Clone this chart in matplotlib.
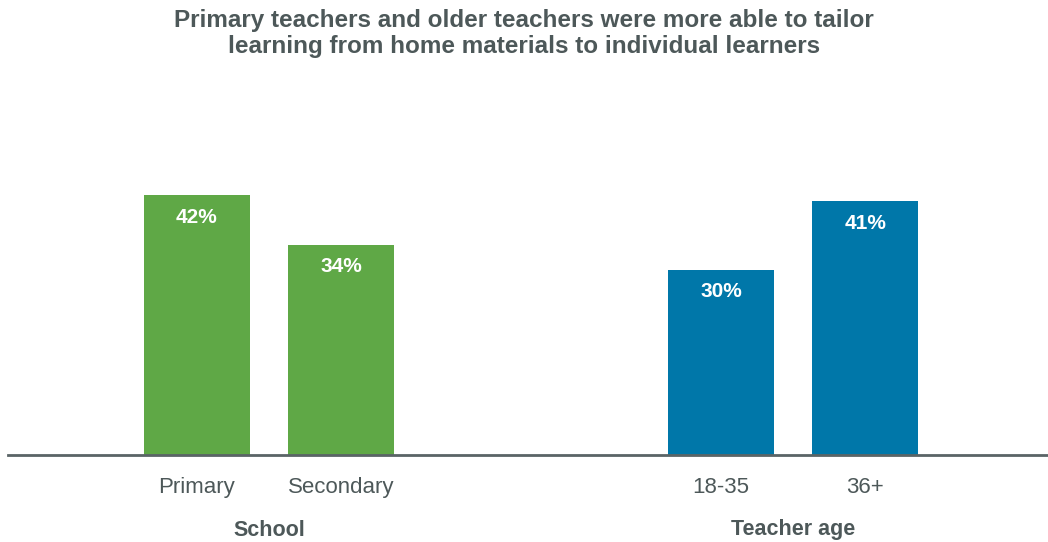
import matplotlib
matplotlib.use('Agg')
import matplotlib.pyplot as plt
import numpy as np

plt.rcParams['font.family'] = ['Liberation Sans', 'DejaVu Sans']

groups = ['School', 'Teacher age']
labels = ['Primary', 'Secondary', '18-35', '36+']
values = [42, 34, 30, 41]
group_of = [0, 0, 1, 1]

green = '#5fa846'
blue = '#0077a9'
text_grey = '#4d5859'
colors = [green if g == 0 else blue for g in group_of]

# bars sit one unit apart within a group, groups separated by a wider gap
group_gap = 1.64
x = np.arange(len(labels)) + np.array(group_of) * group_gap
width = 0.736

fig = plt.figure(figsize=(10.48, 5.42), dpi=100)
ax = fig.add_axes([8 / 1048, 87 / 542, 1040 / 1048, 371 / 542])

bars = ax.bar(x, values, width, color=colors, zorder=2)
ax.set_xlim(-1.3125, 5.91)
ax.set_ylim(0, 60)

for rect, v in zip(bars, values):
    ax.annotate('{}%'.format(v),
                xy=(rect.get_x() + rect.get_width() / 2, v),
                xytext=(0, -16), textcoords='offset points',
                ha='center', va='center', color='white',
                fontsize=15, fontweight='bold')

for side in ['top', 'right', 'left']:
    ax.spines[side].set_visible(False)
ax.spines['bottom'].set_color('#5a6466')
ax.spines['bottom'].set_linewidth(2)
ax.spines['bottom'].set_zorder(3)

ax.set_yticks([])
ax.set_xticks(x)
ax.set_xticklabels(labels, fontsize=16, color=text_grey)
ax.tick_params(axis='x', length=0, pad=16)

# group captions centred under each pair of bars
for gi, name in enumerate(groups):
    xs = x[np.array(group_of) == gi]
    ax.annotate(name, xy=(xs.mean(), 0), xycoords=('data', 'axes fraction'),
                xytext=(0, -54), textcoords='offset points',
                ha='center', va='center', fontsize=15.5, fontweight='bold',
                color=text_grey)

fig.text(0.5, (542 - 33.5) / 542,
         'Primary teachers and older teachers were more able to tailor\n'
         'learning from home materials to individual learners',
         ha='center', va='center', fontsize=17.5, fontweight='bold',
         color=text_grey, linespacing=1.17)

fig.savefig('out.png', dpi=100)
